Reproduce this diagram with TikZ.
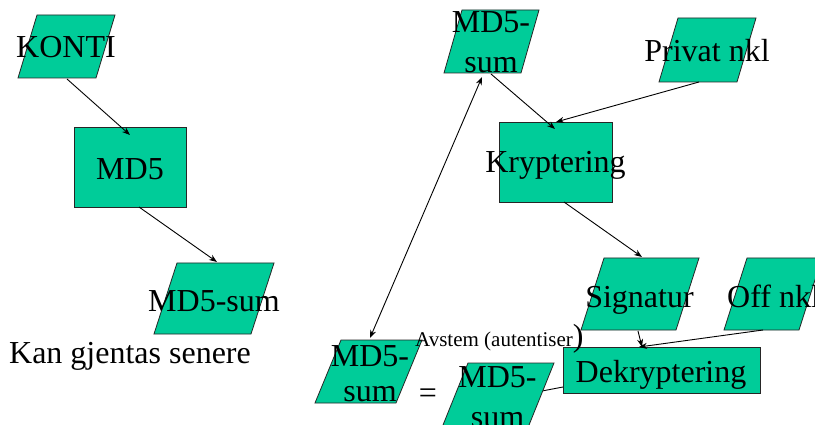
\documentclass[tikz,border=0pt]{standalone}
\usepackage{fontspec}
\setmainfont{Liberation Serif}
\usetikzlibrary{arrows.meta}
\definecolor{boxgreen}{RGB}{0,204,153}
\tikzset{
  shapefill/.style={fill=boxgreen, draw=black!85, line width=0.8pt},
  rbox/.style={rectangle, shapefill, inner sep=0pt, outer sep=0pt},
  lbl/.style={inner sep=0pt, font=\fontsize{32}{40}\selectfont},
  conn/.style={line width=0.9pt, -{Stealth[length=8pt,width=6pt]}},
  biconn/.style={line width=0.9pt, {Stealth[length=8pt,width=6pt]}-{Stealth[length=8pt,width=6pt]}},
  plainconn/.style={line width=0.9pt},
}
% parallelogram: xTL, xTR, yTop, slant, yBottom
\newcommand\mypgram[5]{%
  \filldraw[shapefill] (#1,#3) -- (#2,#3) -- ({#2-#4},#5) -- ({#1-#4},#5) -- cycle;}
\begin{document}
\begin{tikzpicture}[x=1pt,y=-1pt]
\clip (0,0) rectangle (815,425);
\fill[white] (0,0) rectangle (815,425);

% ---- shapes ----
\mypgram{37}{115}{15}{19}{78}      % KONTI
\node[rbox, minimum width=112pt, minimum height=80pt] (md5) at (130,167) {};
\mypgram{177}{274}{263}{23}{334}   % MD5-sum (left)
\mypgram{462}{539}{10}{18}{73}     % MD5-sum (top)
\mypgram{678}{756}{18}{19}{82}     % Privat nkl
\node[rbox, minimum width=113pt, minimum height=80pt] (krypt) at (555.5,162) {};
\mypgram{604}{699}{258}{23}{330}   % Signatur
\mypgram{747}{822}{258}{23}{330}   % Off nkl
\node[rbox, minimum width=197pt, minimum height=46pt] (dekrypt) at (661.5,370) {};
\mypgram{341}{422}{340}{26}{403}   % MD5-sum (bottom left)

% line from Dekryptering to lower MD5-sum
\coordinate (dekOut) at (563,387);
\coordinate (sumRIn) at (542,391);
\draw[plainconn] (dekOut) -- (sumRIn);
\mypgram{468}{554}{363}{27}{430}   % MD5-sum (bottom right)

% ---- texts ----
\node[lbl, anchor=base] (tKonti) at (66,58) {KONTI};
\node[lbl, anchor=base] (tMd5) at (130,180) {MD5};
\node[lbl, anchor=base] (tSumL) at (214,312) {MD5-sum};
\node[lbl, anchor=base] (tKan) at (130,363) {Kan gjentas senere};
\node[lbl, align=center] (tSumTop) at (491,42) {MD5-\\sum};
\node[lbl, anchor=base] (tPriv) at (707,62) {Privat nkl};
\node[lbl, anchor=base] (tKrypt) at (555.5,173) {Kryptering};
\node[lbl, anchor=base] (tSig) at (639.5,307) {Signatur};
\node[lbl, anchor=base west] (tOff) at (727,307) {Off nkl};
\node[lbl, anchor=base] (tDek) at (661,382) {Dekryptering};
\node[lbl, font=\fontsize{32}{35}\selectfont, align=center] (tSumBL) at (370,373.7) {MD5-\\sum};
\node[lbl, align=center] (tSumBR) at (497.5,397.2) {MD5-\\sum};
\node[lbl, anchor=base] (tEq) at (428,403) {=};
\node[inner sep=0pt, anchor=base west] (tAvstem) at (415,346)
  {{\fontsize{21}{25}\selectfont Avstem (autentiser}{\fontsize{32}{38}\selectfont )}};

% ---- connector end points ----
\coordinate (kontiOut) at (67,79);
\coordinate (md5In) at (130,135);
\coordinate (md5Out) at (139,207);
\coordinate (sumLIn) at (217,262);
\coordinate (sumTopOut) at (491,74);
\coordinate (kryptInA) at (555,129);
\coordinate (privOut) at (699,82);
\coordinate (kryptInB) at (556,122);
\coordinate (kryptOut) at (564,202);
\coordinate (sigIn) at (642,257);
\coordinate (sumTopIn) at (482,77);
\coordinate (sumBLIn) at (370,338);
\coordinate (sigOut) at (638,331);
\coordinate (dekInA) at (642,347);
\coordinate (offOut) at (763,330);
\coordinate (dekInB) at (639,347);

% ---- connectors ----
\draw[conn] (kontiOut) -- (md5In);
\draw[conn] (md5Out) -- (sumLIn);
\draw[conn] (sumTopOut) -- (kryptInA);
\draw[conn] (privOut) -- (kryptInB);
\draw[conn] (kryptOut) -- (sigIn);
\draw[biconn] (sumTopIn) -- (sumBLIn);
\draw[conn] (sigOut) -- (dekInA);
\draw[conn] (offOut) -- (dekInB);
\end{tikzpicture}
\end{document}
